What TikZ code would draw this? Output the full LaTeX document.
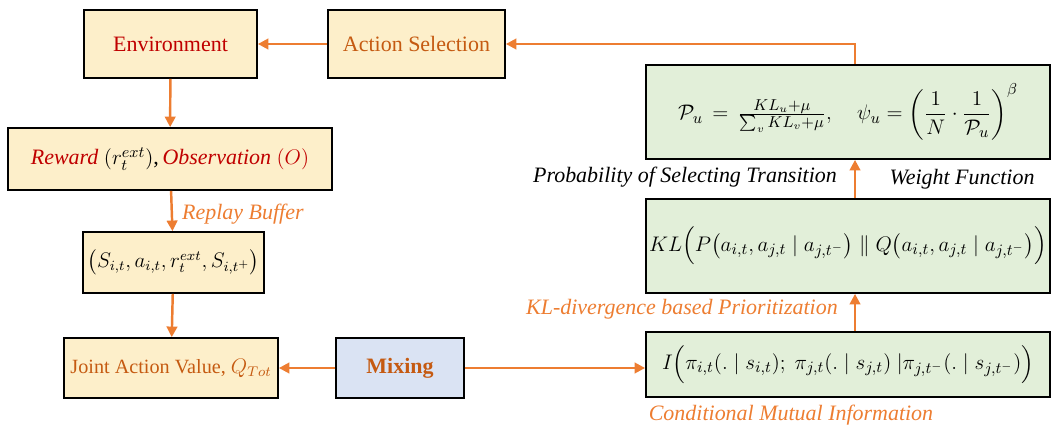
\documentclass[tikz,border=0pt]{standalone}
\usepackage{amsmath}
\usepackage{fontspec}
\setmainfont{Liberation Serif}[ItalicFont={Liberation Serif Italic}, BoldFont={Liberation Serif Bold}]
\usetikzlibrary{arrows.meta}
\definecolor{boxyellow}{HTML}{FDEFCA}
\definecolor{boxgreen}{HTML}{E2EFD9}
\definecolor{boxblue}{HTML}{DAE3F3}
\definecolor{arrorange}{HTML}{ED7D31}
\definecolor{txtorange}{HTML}{C55A11}
\definecolor{txtred}{HTML}{C00000}

\begin{document}
\begin{tikzpicture}[-{Triangle[length=6pt,width=6pt]}, line width=1.4pt, draw=arrorange,
        font=\fontsize{12.5}{15}\selectfont,
        yellow box/.style={draw=black, line width=1pt, fill=boxyellow, inner sep=0pt},
        green box/.style={draw=black, line width=1pt, fill=boxgreen, inner sep=0pt,
            minimum width=8.08cm},
        blue box/.style={draw=black, line width=1pt, fill=boxblue, inner sep=0pt},
        side label/.style={font=\fontsize{12.5}{15}\selectfont\itshape, inner sep=0pt}]
    \useasboundingbox (0,0) rectangle (21.08,8.6);

    % Boxes
    \node[yellow box, minimum width=3.46cm, minimum height=1.36cm, text=txtred] (env) at (3.41,7.72) {Environment};
    \node[yellow box, minimum width=3.54cm, minimum height=1.36cm, text=txtorange] (act) at (8.33,7.72) {Action Selection};
    \node[yellow box, minimum width=6.48cm, minimum height=1.24cm] (obs) at (3.40,5.42)
        {\textcolor{txtred}{\textit{Reward}}\ $(r_t^{ext})$,\,\textcolor{txtred}{\textit{Observation}\ $(O)$}};
    \node[yellow box, minimum width=3.62cm, minimum height=1.22cm, font=\fontsize{11.5}{14}\selectfont] (tuple) at (3.47,3.35)
        {$\bigl(S_{i,t}, a_{i,t}, r_t^{ext}, S_{i,t^{+}}\bigr)$};
    \node[yellow box, minimum width=4.28cm, minimum height=1.20cm, text=txtorange, font=\fontsize{11.5}{14}\selectfont] (qtot) at (3.42,1.24)
        {Joint Action Value, $Q_{Tot}$};
    \node[blue box, minimum width=2.56cm, minimum height=1.20cm, text=txtorange, font=\fontsize{12.5}{15}\selectfont\bfseries] (mix) at (8.00,1.24) {Mixing};
    \node[green box, minimum height=1.88cm] (prob) at (16.96,6.36)
        {$\mathcal{P}_u \,=\, \tfrac{KL_u+\mu}{\sum_v KL_v+\mu},\quad \psi_u = \left(\dfrac{1}{N}\cdot\dfrac{1}{\mathcal{P}_u}\right)^{\beta}$};
    \node[green box, minimum height=1.88cm] (kl) at (16.96,3.68)
        {$KL\Bigl(P\bigl(a_{i,t}, a_{j,t} \mid a_{j,t^-}\bigr) \parallel Q\bigl(a_{i,t}, a_{j,t} \mid a_{j,t^-}\bigr)\Bigr)$};
    \node[green box, minimum height=1.30cm] (cmi) at (16.96,1.31)
        {$I\Bigl(\pi_{i,t}(.\mid s_{i,t});\ \pi_{j,t}(.\mid s_{j,t})\ |\pi_{j,t^-}(.\mid s_{j,t^-})\Bigr)$};

    % Labels
    \node[side label, text=arrorange, anchor=west] (replay) at (3.62,4.32) {Replay Buffer};
    \node[side label, text=arrorange, anchor=east] (klprio) at (16.78,2.42) {KL-divergence based Prioritization};
    \node[side label, anchor=east] (select) at (16.76,5.06) {Probability of Selecting Transition};
    \node[side label] (weight) at (19.24,5.02) {Weight Function};
    \node[side label, text=arrorange] (mutual) at (15.82,0.30) {Conditional Mutual Information};

    \coordinate (spine) at (17.10,0);

    % Edges
    \path (act) edge[] (env);
    \path (env) edge[] (obs);
    \path (obs) edge[] (tuple);
    \path (tuple) edge[] (qtot);
    \path (mix) edge[] (qtot);
    \path (mix.east) edge[] (cmi.west |- mix.east);
    \path (cmi.north -| spine) edge[] (kl.south -| spine);
    \path (kl.north -| spine) edge[] (prob.south -| spine);
    \draw (prob.north -| spine) |- (act.east);
\end{tikzpicture}
\end{document}
